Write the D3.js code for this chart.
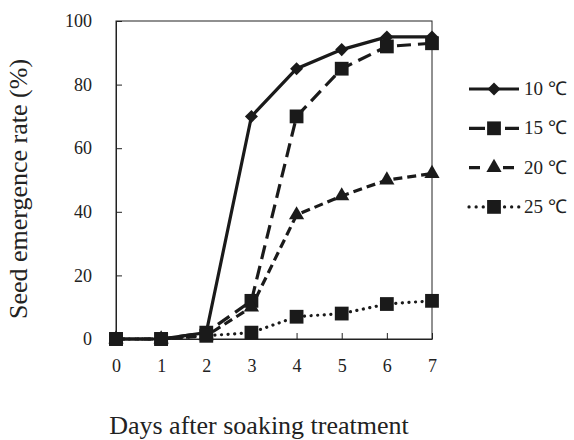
<!DOCTYPE html>
<html>
<head>
<meta charset="utf-8">
<script src="https://cdnjs.cloudflare.com/ajax/libs/d3/7.8.5/d3.min.js"></script>
<style>
  body { margin: 0; background: #fff; }
  svg { display: block; }
  svg text { font-family: "Liberation Serif", "Times New Roman", serif; }
</style>
</head>
<body>
<div id="chart"></div>
<script>
var days = [0, 1, 2, 3, 4, 5, 6, 7];
var temps = ["10 \u2103", "15 \u2103", "20 \u2103", "25 \u2103"];
var rate10 = [0, 0, 2, 70, 85, 91, 95, 95];
var rate15 = [0, 0, 2, 12, 70, 85, 92, 93];
var rate20 = [0, 0, 1, 10, 39, 45, 50, 52];
var rate25 = [0, 0, 1, 2, 7, 8, 11, 12];
var yTicks = [0, 20, 40, 60, 80, 100];

var width = 574, height = 440;
var margin = { left: 116, top: 21, right: 142, bottom: 101 };

var series = [
  { name: temps[0], values: rate10, dash: null, legendDash: null, marker: "diamond" },
  { name: temps[1], values: rate15, dash: "14,7", legendDash: "16,20", marker: "square" },
  { name: temps[2], values: rate20, dash: "9,5", legendDash: "11,23", marker: "triangle" },
  { name: temps[3], values: rate25, dash: "0.1,6.5", legendDash: "0.1,7", marker: "square", dotted: true }
];

var svg = d3.select("#chart").append("svg")
  .attr("width", width)
  .attr("height", height);

var x = d3.scaleLinear().domain([0, 7]).range([margin.left, width - margin.right]);
var y = d3.scaleLinear().domain([0, 100]).range([height - margin.bottom, margin.top]);

// frame
svg.append("rect")
  .attr("x", x(0)).attr("y", y(100))
  .attr("width", x(7) - x(0)).attr("height", y(0) - y(100))
  .attr("fill", "none").attr("stroke", "#222").attr("stroke-width", 1);

var xAxis = svg.append("g")
  .attr("transform", "translate(0," + y(0) + ")")
  .call(d3.axisBottom(x).tickValues(days).tickSizeInner(-6).tickSizeOuter(0).tickPadding(20).tickFormat(d3.format("d")));
var yAxis = svg.append("g")
  .attr("transform", "translate(" + x(0) + ",0)")
  .call(d3.axisLeft(y).tickValues(yTicks).tickSizeInner(-6).tickSizeOuter(0).tickPadding(24).tickFormat(d3.format("d")));

[xAxis, yAxis].forEach(function(a) {
  a.attr("font-family", null).attr("font-size", 18);
  a.select(".domain").attr("stroke", "#222");
  a.selectAll(".tick line").attr("stroke", "#222");
  a.selectAll("text").attr("fill", "#222");
});

var symbols = {
  diamond: d3.symbol().type(d3.symbolSquare).size(85),
  square: d3.symbol().type(d3.symbolSquare).size(190),
  triangle: d3.symbol().type(d3.symbolTriangle).size(100)
};
var rot = { diamond: 45, square: 0, triangle: 0 };

var line = d3.line()
  .x(function(d, i) { return x(days[i]); })
  .y(function(d) { return y(d); });

series.forEach(function(s) {
  var g = svg.append("g");
  g.append("path")
    .attr("d", line(s.values))
    .attr("fill", "none")
    .attr("stroke", "#1a1a1a")
    .attr("stroke-width", 3.2)
    .attr("stroke-linecap", s.dotted ? "round" : "butt")
    .attr("stroke-dasharray", s.dash);
  g.selectAll("path.m")
    .data(s.values)
    .enter().append("path")
    .attr("class", "m")
    .attr("d", symbols[s.marker])
    .attr("transform", function(d, i) {
      return "translate(" + x(days[i]) + "," + y(d) + ") rotate(" + rot[s.marker] + ")";
    })
    .attr("fill", "#1a1a1a");
});

// legend
var legend = svg.append("g");
series.forEach(function(s, i) {
  var ly = 89 + i * 39.3;
  var row = legend.append("g").attr("transform", "translate(0," + ly + ")");
  row.append("line")
    .attr("x1", 469).attr("x2", 519)
    .attr("stroke", "#1a1a1a")
    .attr("stroke-width", 3.2)
    .attr("stroke-linecap", s.dotted ? "round" : "butt")
    .attr("stroke-dasharray", s.legendDash);
  row.append("path")
    .attr("d", symbols[s.marker])
    .attr("transform", "translate(494,0) rotate(" + rot[s.marker] + ")")
    .attr("fill", "#1a1a1a");
  row.append("text")
    .attr("x", 524).attr("y", 6)
    .attr("font-size", 19)
    .attr("fill", "#222")
    .text(s.name);
});

// axis titles
svg.append("text")
  .attr("transform", "translate(27," + ((y(0) + y(100)) / 2 + 9) + ") rotate(-90)")
  .attr("text-anchor", "middle")
  .attr("font-size", 26)
  .attr("fill", "#222")
  .text("Seed emergence rate (%)");

svg.append("text")
  .attr("x", 259).attr("y", 434)
  .attr("text-anchor", "middle")
  .attr("font-size", 26)
  .attr("fill", "#222")
  .text("Days after soaking treatment");
</script>
</body>
</html>
